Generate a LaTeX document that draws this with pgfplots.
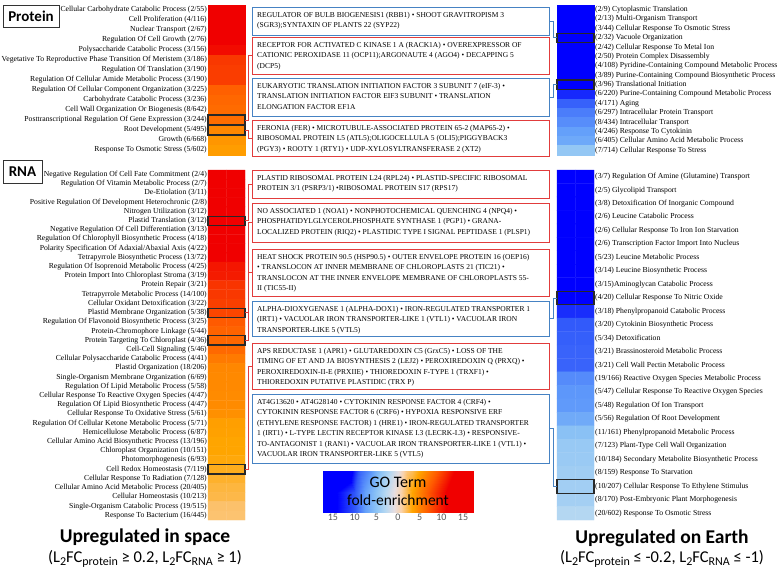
\documentclass[border=0pt]{standalone}
\usepackage{pgfplots}
\pgfplotsset{compat=1.18}
\usepackage{fontspec}
\setmainfont{Liberation Serif}
\newfontfamily\carl{Carlito}
\definecolor{boxred}{RGB}{225,60,60}
\definecolor{boxblue}{RGB}{70,130,195}
\definecolor{cellbox}{RGB}{40,40,40}
\newcommand{\sub}[1]{\raisebox{-0.22em}{\fontsize{12}{12}\selectfont #1}}
\pgfplotsset{
  colormap={go}{rgb255(0pt)=(0,0,255) rgb255(6.3pt)=(0,0,255) rgb255(8.3pt)=(50,90,250) rgb255(11.3pt)=(100,160,250) rgb255(13.3pt)=(140,195,245) rgb255(15.3pt)=(180,215,242) rgb255(17.3pt)=(230,222,225) rgb255(18.8pt)=(250,210,170) rgb255(22.3pt)=(255,165,0) rgb255(26.3pt)=(255,90,0) rgb255(30.3pt)=(240,0,0) rgb255(34.6pt)=(240,0,0)},
  heat/.style={scale only axis, width=37pt, xmin=-0.5, xmax=1.5, y dir=reverse,
    axis line style={draw=none}, major tick length=0pt, xtick=\empty,
    ytick={1,...,#1}, ymin=0.5, ymax=#1+0.5, point meta min=-17.3, point meta max=17.3,
    colormap name=go, clip=false, anchor=north west,
    yticklabel style={font=\fontsize{7.7}{8}\selectfont, inner sep=1pt}},
  cells/.style={matrix plot*, mesh/cols=2, point meta=explicit},
}
\begin{document}
\begin{tikzpicture}
\useasboundingbox (0pt,0pt) rectangle (778pt,-573pt);
\fill[white] (0pt,0pt) rectangle (778pt,-573pt);

% ---------- Left, protein ----------
\begin{axis}[heat=15, height=150pt, at={(208pt,-5pt)},
  yticklabels={Cellular Carbohydrate Catabolic Process (2/55),Cell Proliferation (4/116),Nuclear Transport (2/67),Regulation Of Cell Growth (2/76),Polysaccharide Catabolic Process (3/156),Vegetative To Reproductive Phase Transition Of Meristem (3/186),Regulation Of Translation (3/190),Regulation Of Cellular Amide Metabolic Process (3/190),Regulation Of Cellular Component Organization (3/225),Carbohydrate Catabolic Process (3/236),Cell Wall Organization Or Biogenesis (8/642),Posttranscriptional Regulation Of Gene Expression (3/244),Root Development (5/495),Growth (6/668),Response To Osmotic Stress (5/602)}]
\addplot[cells] table[meta=c]{
x y c
0 1 23.6
1 1 23.6
0 2 22.4
1 2 22.4
0 3 19.4
1 3 19.4
0 4 17.1
1 4 17.1
0 5 12.5
1 5 12.5
0 6 10.5
1 6 10.5
0 7 10.3
1 7 10.3
0 8 10.3
1 8 10.3
0 9 8.7
1 9 8.7
0 10 8.3
1 10 8.3
0 11 8.1
1 11 8.1
0 12 8.0
1 12 8.0
0 13 6.6
1 13 6.6
0 14 5.8
1 14 5.8
0 15 5.4
1 15 5.4
};
\draw[cellbox, line width=1.1pt] (axis cs:-0.5,11.5) rectangle (axis cs:1.5,12.5);
\draw[cellbox, line width=1.1pt] (axis cs:-0.5,12.5) rectangle (axis cs:1.5,13.5);
\end{axis}

% ---------- Left, RNA ----------
\begin{axis}[heat=38, height=350pt, at={(208pt,-170pt)},
  yticklabels={Negative Regulation Of Cell Fate Commitment (2/4),Regulation Of Vitamin Metabolic Process (2/7),De-Etiolation (3/11),Positive Regulation Of Development  Heterochronic (2/8),Nitrogen Utilization (3/12),Plastid Translation (3/12),Negative Regulation Of Cell Differentiation (3/13),Regulation Of Chlorophyll Biosynthetic Process (4/18),Polarity Specification Of Adaxial/Abaxial Axis (4/22),Tetrapyrrole Biosynthetic Process (13/72),Regulation Of Isoprenoid Metabolic Process (4/25),Protein Import Into Chloroplast Stroma (3/19),Protein Repair (3/21),Tetrapyrrole Metabolic Process (14/100),Cellular Oxidant Detoxification (3/22),Plastid Membrane Organization (5/38),Regulation Of Flavonoid Biosynthetic Process (3/25),Protein-Chromophore Linkage (5/44),Protein Targeting To Chloroplast (4/36),Cell-Cell Signaling (5/46),Cellular Polysaccharide Catabolic Process (4/41),Plastid Organization (18/206),Single-Organism Membrane Organization (6/69),Regulation Of Lipid Metabolic Process (5/58),Cellular Response To Reactive Oxygen Species (4/47),Regulation Of Lipid Biosynthetic Process (4/47),Cellular Response To Oxidative Stress (5/61),Regulation Of Cellular Ketone Metabolic Process (5/71),Hemicellulose Metabolic Process (6/87),Cellular Amino Acid Biosynthetic Process (13/196),Chloroplast Organization (10/151),Photomorphogenesis (6/93),Cell Redox Homeostasis (7/119),Cellular Response To Radiation (7/128),Cellular Amino Acid Metabolic Process (20/405),Cellular Homeostasis (10/213),Single-Organism Catabolic Process (19/515),Response To Bacterium (16/445)}]
\addplot[cells] table[meta=c]{
x y c
0 1 37.5
1 1 37.5
0 2 21.4
1 2 21.4
0 3 20.5
1 3 20.5
0 4 18.75
1 4 18.75
0 5 18.75
1 5 18.75
0 6 18.75
1 6 18.75
0 7 17.3
1 7 17.3
0 8 16.7
1 8 16.7
0 9 13.6
1 9 13.6
0 10 13.5
1 10 13.5
0 11 12.0
1 11 12.0
0 12 11.8
1 12 11.8
0 13 10.7
1 13 10.7
0 14 10.5
1 14 10.5
0 15 10.2
1 15 10.2
0 16 9.9
1 16 9.9
0 17 9.0
1 17 9.0
0 18 8.5
1 18 8.5
0 19 8.3
1 19 8.3
0 20 8.2
1 20 8.2
0 21 7.3
1 21 7.3
0 22 6.6
1 22 6.6
0 23 6.5
1 23 6.5
0 24 6.5
1 24 6.5
0 25 6.4
1 25 6.4
0 26 6.4
1 26 6.4
0 27 6.1
1 27 6.1
0 28 5.3
1 28 5.3
0 29 5.2
1 29 5.2
0 30 5.0
1 30 5.0
0 31 5.0
1 31 5.0
0 32 4.8
1 32 4.8
0 33 4.4
1 33 4.4
0 34 4.1
1 34 4.1
0 35 3.7
1 35 3.7
0 36 3.5
1 36 3.5
0 37 2.8
1 37 2.8
0 38 2.7
1 38 2.7
};
\draw[cellbox, line width=1.1pt] (axis cs:-0.5,5.5) rectangle (axis cs:1.5,6.5);
\draw[cellbox, line width=1.1pt] (axis cs:-0.5,15.5) rectangle (axis cs:1.5,16.5);
\draw[cellbox, line width=1.1pt] (axis cs:-0.5,18.5) rectangle (axis cs:1.5,19.5);
\draw[cellbox, line width=1.1pt] (axis cs:-0.5,32.5) rectangle (axis cs:1.5,33.5);
\end{axis}

% ---------- Right, protein ----------
\begin{axis}[heat=16, height=150pt, at={(557pt,-5pt)}, yticklabel pos=right,
  yticklabels={(2/9) Cytoplasmic Translation,(2/13) Multi-Organism Transport,(3/44) Cellular Response To Osmotic Stress,(2/32) Vacuole Organization,(2/42) Cellular Response To Metal Ion,(2/50) Protein Complex Disassembly,(4/108) Pyridine-Containing Compound Metabolic Process,(3/89) Purine-Containing Compound Biosynthetic Process,(3/96) Translational Initiation,(6/220) Purine-Containing Compound Metabolic Process,(4/171) Aging,(6/297) Intracellular Protein Transport,(8/434) Intracellular Transport,(4/246) Response To Cytokinin,(6/405) Cellular Amino Acid Metabolic Process,(7/714) Cellular Response To Stress}]
\addplot[cells] table[meta=c]{
x y c
0 1 -82.2
1 1 -82.2
0 2 -56.9
1 2 -56.9
0 3 -25.2
1 3 -25.2
0 4 -23.1
1 4 -23.1
0 5 -17.6
1 5 -17.6
0 6 -14.8
1 6 -14.8
0 7 -13.7
1 7 -13.7
0 8 -12.5
1 8 -12.5
0 9 -11.6
1 9 -11.6
0 10 -10.1
1 10 -10.1
0 11 -8.7
1 11 -8.7
0 12 -7.5
1 12 -7.5
0 13 -6.8
1 13 -6.8
0 14 -6.0
1 14 -6.0
0 15 -5.5
1 15 -5.5
0 16 -3.6
1 16 -3.6
};
\draw[cellbox, line width=1.1pt] (axis cs:-0.5,3.5) rectangle (axis cs:1.5,4.5);
\draw[cellbox, line width=1.1pt] (axis cs:-0.5,8.5) rectangle (axis cs:1.5,9.5);
\end{axis}

% ---------- Right, RNA ----------
\begin{axis}[heat=26, height=350pt, at={(557pt,-170pt)}, yticklabel pos=right,
  yticklabels={(3/7) Regulation Of Amine (Glutamine) Transport,(2/5) Glycolipid Transport,(3/8) Detoxification Of Inorganic Compound,(2/6) Leucine Catabolic Process,(2/6) Cellular Response To Iron Ion Starvation,(2/6) Transcription Factor Import Into Nucleus,(5/23) Leucine Metabolic Process,(3/14) Leucine Biosynthetic Process,(3/15)Aminoglycan Catabolic Process,(4/20) Cellular Response To Nitric Oxide,(3/18) Phenylpropanoid Catabolic Process,(3/20) Cytokinin Biosynthetic Process,(5/34) Detoxification,(3/21) Brassinosteroid Metabolic Process,(3/21) Cell Wall Pectin Metabolic Process,(19/166) Reactive Oxygen Species Metabolic Process,(5/47) Cellular Response To Reactive Oxygen Species,(5/48) Regulation Of Ion Transport,(5/56) Regulation Of Root Development,(11/161) Phenylpropanoid Metabolic Process,(7/123) Plant-Type Cell Wall Organization,(10/184) Secondary Metabolite Biosynthetic Process,(8/159) Response To Starvation,(10/207) Cellular Response To Ethylene Stimulus,(8/170) Post-Embryonic Plant Morphogenesis,(20/602) Response To Osmotic Stress}]
\addplot[cells] table[meta=c]{
x y c
0 1 -25.7
1 1 -25.7
0 2 -24.0
1 2 -24.0
0 3 -22.5
1 3 -22.5
0 4 -20.0
1 4 -20.0
0 5 -20.0
1 5 -20.0
0 6 -20.0
1 6 -20.0
0 7 -13.0
1 7 -13.0
0 8 -12.9
1 8 -12.9
0 9 -12.0
1 9 -12.0
0 10 -12.0
1 10 -12.0
0 11 -10.0
1 11 -10.0
0 12 -9.0
1 12 -9.0
0 13 -8.8
1 13 -8.8
0 14 -8.6
1 14 -8.6
0 15 -8.6
1 15 -8.6
0 16 -6.9
1 16 -6.9
0 17 -6.4
1 17 -6.4
0 18 -6.25
1 18 -6.25
0 19 -5.4
1 19 -5.4
0 20 -4.1
1 20 -4.1
0 21 -3.4
1 21 -3.4
0 22 -3.3
1 22 -3.3
0 23 -3.0
1 23 -3.0
0 24 -2.9
1 24 -2.9
0 25 -2.8
1 25 -2.8
0 26 -2.0
1 26 -2.0
};
\draw[cellbox, line width=1.1pt] (axis cs:-0.5,9.5) rectangle (axis cs:1.5,10.5);
\draw[cellbox, line width=1.1pt] (axis cs:-0.5,23.5) rectangle (axis cs:1.5,24.5);
\end{axis}

% ---------- Colour bar ----------
\begin{axis}[scale only axis, width=150pt, height=41pt, at={(323pt,-471pt)}, anchor=north west,
  xmin=-17.3, xmax=17.3, ymin=0, ymax=1, colormap name=go, point meta min=-17.3, point meta max=17.3,
  axis x line*=bottom, axis y line=none, x axis line style={draw=gray, -},
  xtick={-15,-10,-5,0,5,10,15}, xticklabels={15,10,5,0,5,10,15},
  major tick length=2pt, tick style={gray}, xtick pos=bottom,
  xticklabel style={font=\carl\fontsize{10}{11}\selectfont, text=black!65, inner sep=2pt}]
\addplot[surf, shader=interp, mesh/cols=12, point meta=explicit] table[meta=c]{
x y c
-17.3 0 -17.3
-11 0 -11
-9 0 -9
-6 0 -6
-4 0 -4
-2 0 -2
0 0 0
1.5 0 1.5
5 0 5
9 0 9
13 0 13
17.3 0 17.3
-17.3 1 -17.3
-11 1 -11
-9 1 -9
-6 1 -6
-4 1 -4
-2 1 -2
0 1 0
1.5 1 1.5
5 1 5
9 1 9
13 1 13
17.3 1 17.3
};
\node[font=\carl\fontsize{16}{17}\selectfont] at (axis cs:0,0.72) {GO Term};
\node[font=\carl\fontsize{15.5}{17}\selectfont] at (axis cs:0,0.28) {fold-enrichment};
\end{axis}

\begin{scope}[x=1pt, y=-1pt]
% titles
\node[draw=black!80, line width=1pt, minimum width=56pt, minimum height=22pt, inner sep=0pt,
  font=\carl\bfseries\fontsize{15}{17}\selectfont] at (31,16) {Protein};
\node[draw=black!80, line width=1pt, minimum width=39pt, minimum height=23pt, inner sep=0pt,
  font=\carl\bfseries\fontsize{15}{17}\selectfont] at (22.5,171.5) {RNA};
\node[font=\carl\bfseries\fontsize{19.5}{22}\selectfont] at (145,537) {Upregulated in space};
\node[font=\carl\fontsize{16.5}{18}\selectfont] at (145,559) {(L\sub{2}FC\sub{protein} ≥ 0.2, L\sub{2}FC\sub{RNA} ≥ 1)};
\node[font=\carl\bfseries\fontsize{19.5}{22}\selectfont] at (662,538) {Upregulated on Earth};
\node[font=\carl\fontsize{16.5}{18}\selectfont] at (662,559) {(L\sub{2}FC\sub{protein} ≤ -0.2, L\sub{2}FC\sub{RNA} ≤ -1)};

% gene boxes
\tikzset{gtext/.style={anchor=north west, inner sep=0pt, align=left, font=\fontsize{7.5}{10.4}\selectfont}}
\draw[boxblue, line width=0.8pt] (252,7) rectangle (549,35);
\node[gtext] at (257,12) {REGULATOR OF BULB BIOGENESIS1 (RBB1) • SHOOT GRAVITROPISM 3\\(SGR3);SYNTAXIN OF PLANTS 22 (SYP22)};
\draw[boxred, line width=0.8pt] (252,37) rectangle (549,74);
\node[gtext] at (257,42) {RECEPTOR FOR ACTIVATED C KINASE 1 A (RACK1A) • OVEREXPRESSOR OF\\CATIONIC PEROXIDASE 11 (OCP11);ARGONAUTE 4 (AGO4) • DECAPPING 5\\(DCP5)};
\draw[boxblue, line width=0.8pt] (252,78) rectangle (549,116);
\node[gtext] at (257,83) {EUKARYOTIC TRANSLATION INITIATION FACTOR 3 SUBUNIT 7 (eIF-3) •\\TRANSLATION INITIATION FACTOR EIF3 SUBUNIT • TRANSLATION\\ELONGATION FACTOR EF1A};
\draw[boxred, line width=0.8pt] (252,120) rectangle (549,156);
\node[gtext] at (257,125) {FERONIA (FER) • MICROTUBULE-ASSOCIATED PROTEIN 65-2 (MAP65-2) •\\RIBOSOMAL PROTEIN L5 (ATL5);OLIGOCELLULA 5 (OLI5);PIGGYBACK3\\(PGY3) • ROOTY 1 (RTY1) • UDP-XYLOSYLTRANSFERASE 2 (XT2)};
\draw[boxred, line width=0.8pt] (252,170) rectangle (549,198);
\node[gtext] at (257,175) {PLASTID RIBOSOMAL PROTEIN L24 (RPL24) • PLASTID-SPECIFIC RIBOSOMAL\\PROTEIN 3/1 (PSRP3/1) •RIBOSOMAL PROTEIN S17 (RPS17)};
\draw[boxred, line width=0.8pt] (252,203) rectangle (549,242);
\node[gtext] at (257,208) {NO ASSOCIATED 1 (NOA1) • NONPHOTOCHEMICAL QUENCHING 4 (NPQ4) •\\PHOSPHATIDYLGLYCEROLPHOSPHATE SYNTHASE 1 (PGP1) • GRANA-\\LOCALIZED PROTEIN (RIQ2) • PLASTIDIC TYPE I SIGNAL PEPTIDASE 1 (PLSP1)};
\draw[boxred, line width=0.8pt] (252,249) rectangle (549,296);
\node[gtext] at (257,254) {HEAT SHOCK PROTEIN 90.5 (HSP90.5) • OUTER ENVELOPE PROTEIN 16 (OEP16)\\• TRANSLOCON AT INNER MEMBRANE OF CHLOROPLASTS 21 (TIC21) •\\TRANSLOCON AT THE INNER ENVELOPE MEMBRANE OF CHLOROPLASTS 55-\\II (TIC55-II)};
\draw[boxblue, line width=0.8pt] (252,301) rectangle (549,336);
\node[gtext] at (257,306) {ALPHA-DIOXYGENASE 1 (ALPHA-DOX1) • IRON-REGULATED TRANSPORTER 1\\(IRT1) • VACUOLAR IRON TRANSPORTER-LIKE 1 (VTL1) • VACUOLAR IRON\\TRANSPORTER-LIKE 5 (VTL5)};
\draw[boxred, line width=0.8pt] (252,343) rectangle (549,389);
\node[gtext] at (257,348) {APS REDUCTASE 1 (APR1) • GLUTAREDOXIN C5 (GrxC5) • LOSS OF THE\\TIMING OF ET AND JA BIOSYNTHESIS 2 (LEJ2) • PEROXIREDOXIN Q (PRXQ) •\\PEROXIREDOXIN-II-E (PRXIIE) • THIOREDOXIN F-TYPE 1 (TRXF1) •\\THIOREDOXIN PUTATIVE PLASTIDIC (TRX P)};
\draw[boxblue, line width=0.8pt] (252,394) rectangle (549,463);
\node[gtext] at (257,399) {AT4G13620 • AT4G28140 • CYTOKININ RESPONSE FACTOR 4 (CRF4) •\\CYTOKININ RESPONSE FACTOR 6 (CRF6) • HYPOXIA RESPONSIVE ERF\\(ETHYLENE RESPONSE FACTOR) 1 (HRE1) • IRON-REGULATED TRANSPORTER\\1 (IRT1) • L-TYPE LECTIN RECEPTOR KINASE I.3 (LECRK-I.3) • RESPONSIVE-\\TO-ANTAGONIST 1 (RAN1) • VACUOLAR IRON TRANSPORTER-LIKE 1 (VTL1) •\\VACUOLAR IRON TRANSPORTER-LIKE 5 (VTL5)};

% connectors
\draw[boxred, line width=0.8pt] (245,120) -- (248.5,120) -- (248.5,55.5) -- (252,55.5);
\draw[boxred, line width=0.8pt] (245,130) -- (248.5,130) -- (248.5,138) -- (252,138);
\draw[boxred, line width=0.8pt] (245,220.6) -- (248.5,220.6) -- (248.5,184) -- (252,184);
\draw[boxred, line width=0.8pt] (245,312.6) -- (248.5,312.6) -- (248.5,272.5) -- (252,272.5);
\draw[boxred, line width=0.8pt] (245,340.3) -- (248.5,340.3) -- (248.5,222.5) -- (252,222.5);
\draw[boxred, line width=0.8pt] (245,469.5) -- (248.5,469.5) -- (248.5,366) -- (252,366);
\draw[boxblue, line width=0.8pt] (557,37.8) -- (553,37.8) -- (553,21) -- (549,21);
\draw[boxblue, line width=0.8pt] (557,84.7) -- (553,84.7) -- (553,97) -- (549,97);
\draw[boxblue, line width=0.8pt] (557,297.9) -- (553,297.9) -- (553,318.5) -- (549,318.5);
\draw[boxblue, line width=0.8pt] (557,486.3) -- (553,486.3) -- (553,428.5) -- (549,428.5);
\end{scope}
\end{tikzpicture}
\end{document}
